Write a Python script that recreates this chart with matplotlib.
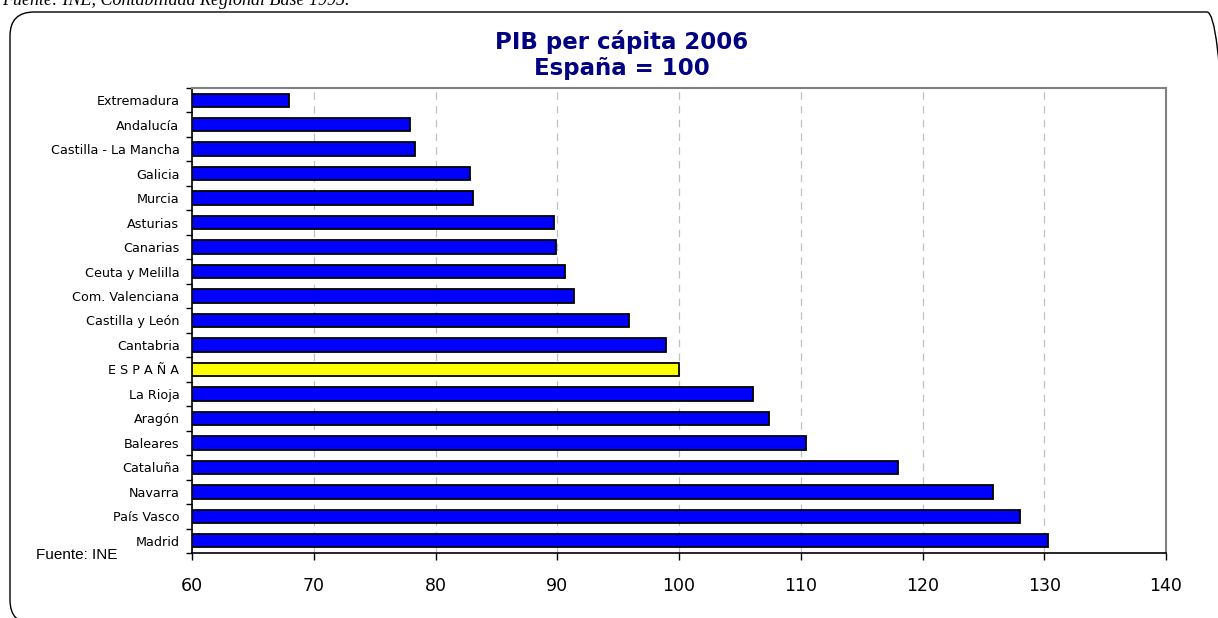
import numpy as np
import matplotlib.pyplot as plt
from matplotlib.patches import FancyBboxPatch
from matplotlib.transforms import IdentityTransform

regiones = ["Extremadura", "Andalucía", "Castilla - La Mancha", "Galicia", "Murcia",
            "Asturias", "Canarias", "Ceuta y Melilla", "Com. Valenciana",
            "Castilla y León", "Cantabria", "E S P A Ñ A", "La Rioja", "Aragón",
            "Baleares", "Cataluña", "Navarra", "País Vasco", "Madrid"]
pib = [68.0, 77.9, 78.3, 82.8, 83.1, 89.7, 89.9, 90.6, 91.4,
       95.9, 98.9, 100.0, 106.1, 107.4, 110.4, 118.0, 125.8, 128.0, 130.3]
colores = ["#ffff00" if r == "E S P A Ñ A" else "#0000ff" for r in regiones]
xticks = [60, 70, 80, 90, 100, 110, 120, 130, 140]

W, H = 1218, 618
fig = plt.figure(figsize=(W / 100, H / 100), dpi=100)
ax = fig.add_axes([192 / W, 1 - 553 / H, (1166 - 192) / W, (553 - 88) / H])

# marco redondeado (en pixeles)
marco = FancyBboxPatch((10, -6), 1221, H - 12 + 6,
                       boxstyle="round,pad=0,rounding_size=24",
                       transform=IdentityTransform(), fill=False,
                       edgecolor="black", linewidth=1.0)
fig.patches.append(marco)

y = np.arange(len(regiones))
ax.barh(y, [v - 60 for v in pib], left=60, height=0.55, color=colores,
        edgecolor="black", linewidth=1.3, zorder=3)

ax.set_xlim(60, 140)
ax.set_ylim(len(regiones) - 0.5, -0.5)
ax.set_xticks(xticks)
ax.set_xticklabels([str(t) for t in xticks], fontsize=12.5)
ax.set_yticks(y)
ax.set_yticklabels(regiones, fontsize=9.2)
ax.set_yticks(np.arange(-0.5, len(regiones), 1), minor=True)
ax.tick_params(axis="y", which="major", length=0, pad=9)
ax.tick_params(axis="y", which="minor", length=4, direction="out", width=1)
ax.tick_params(axis="x", length=5, direction="out", width=1, pad=12)
ax.grid(axis="x", linestyle=(0, (6, 5)), color="#c0c0c0", linewidth=0.9, zorder=0)

for lado in ["top", "right"]:
    ax.spines[lado].set_color("#808080")
    ax.spines[lado].set_linewidth(1.5)
for lado in ["left", "bottom"]:
    ax.spines[lado].set_color("black")
    ax.spines[lado].set_linewidth(1.2)

fig.text(622 / W, 1 - 42 / H, "PIB per cápita 2006", ha="center", va="center",
         fontsize=16.5, fontweight="bold", color="#000080")
fig.text(622 / W, 1 - 69 / H, "España = 100", ha="center", va="center",
         fontsize=16.5, fontweight="bold", color="#000080")
fig.text(36 / W, 1 - 555 / H, "Fuente: INE", ha="left", va="center",
         fontsize=11, family="Liberation Sans")
fig.text(2 / W, 1 - 5 / H, "Fuente: INE, Contabilidad Regional Base 1995.",
         ha="left", va="baseline", fontsize=13, style="italic",
         family="Liberation Serif")

fig.savefig("out.png", dpi=100)
